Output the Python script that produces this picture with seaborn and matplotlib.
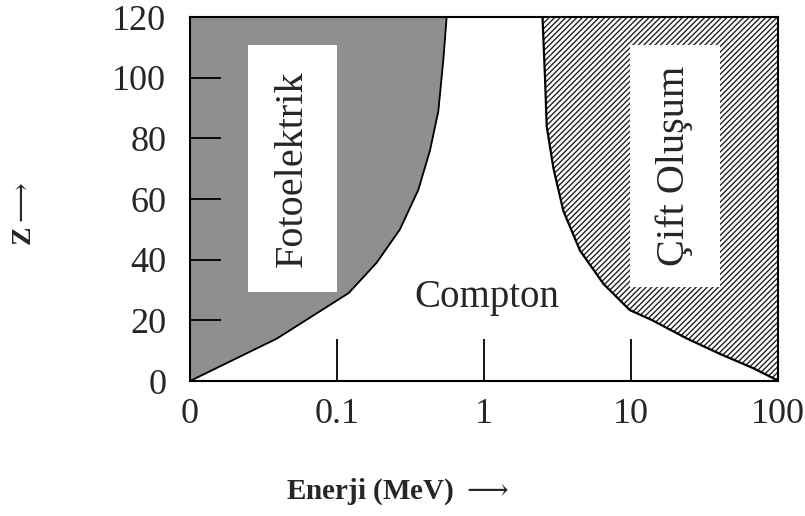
import matplotlib
matplotlib.use("Agg")
import matplotlib.pyplot as plt
import seaborn as sns
import pandas as pd

# boundary photoelectric / compton  (Z, energy MeV)
foto_z = [0, 14, 29, 39, 50, 63, 76, 89, 106, 120]
foto_e = [0.01, 0.039, 0.12, 0.186, 0.268, 0.357, 0.429, 0.489, 0.529, 0.557]

# boundary compton / pair production
cift_z = [120, 100, 84, 70, 56, 43, 32, 23.4, 20, 14, 9, 4.2, 0.9, 0]
cift_e = [2.5, 2.6, 2.67, 2.97, 3.47, 4.5, 6.5, 9.8, 14, 24, 40, 68, 93, 100]

x_ticks = [0.01, 0.1, 1, 10, 100]
x_labels = ["0", "0.1", "1", "10", "100"]
y_ticks = [0, 20, 40, 60, 80, 100, 120]

sns.set_style("white", {"xtick.bottom": True, "ytick.left": True})
plt.rcParams["font.family"] = ["Liberation Serif", "DejaVu Serif"]
plt.rcParams["mathtext.fontset"] = "dejavuserif"
plt.rcParams["hatch.linewidth"] = 1.0

fig = plt.figure(figsize=(8.05, 5.16), dpi=100)
ax = fig.add_axes([0.236, 0.2616, 0.7305, 0.7054])

df_f = pd.DataFrame({"E": foto_e, "Z": foto_z})
df_c = pd.DataFrame({"E": cift_e, "Z": cift_z})

ax.fill_betweenx(foto_z, 0.01, foto_e, color="#8f8f8f", lw=0, zorder=1)
ax.fill_betweenx(cift_z, cift_e, 100, facecolor="white", edgecolor="#222222",
                 hatch="//////", lw=0, zorder=1)
sns.lineplot(data=df_f, x="E", y="Z", sort=False, color="black", lw=1.3, ax=ax)
sns.lineplot(data=df_c, x="E", y="Z", sort=False, color="black", lw=1.6, ax=ax)

ax.set_xscale("log")
ax.set_xlim(0.01, 100)
ax.set_ylim(0, 120)
ax.set_xticks(x_ticks)
ax.set_xticklabels(x_labels)
ax.minorticks_off()
ax.set_yticks(y_ticks)
ax.set_axisbelow(False)
ax.xaxis.set_ticks_position("bottom")
ax.yaxis.set_ticks_position("left")
ax.tick_params(axis="x", direction="in", length=30, width=1.3,
               color="black", labelsize=26, pad=12)
ax.tick_params(axis="y", direction="in", length=22, width=1.3,
               color="black", labelsize=26, pad=17)
for s in ax.spines.values():
    s.set_color("black")
    s.set_linewidth(1.5)
    s.set_zorder(5)

ax.add_patch(plt.Rectangle((0.025, 29.4), 0.075, 81.4, facecolor="white",
                           edgecolor="none", zorder=3))
ax.add_patch(plt.Rectangle((9.8, 31), 30.2, 79.8, facecolor="white",
                           edgecolor="none", zorder=3))
ax.text(0.05, 70, "Fotoelektrik", rotation=90, ha="center", va="center",
        fontsize=29, zorder=4)
ax.text(19.8, 71, "Çift Oluşum", rotation=90, ha="center", va="center",
        fontsize=29, zorder=4)
ax.text(1.05, 27.5, "Compton", ha="center", va="center", fontsize=28, zorder=4)

ax.set_xlabel("Enerji (MeV) $\\longrightarrow$", fontsize=21, fontweight="bold")
ax.xaxis.set_label_coords(0.352, -0.262)
ax.set_ylabel("Z$\\longrightarrow$", fontsize=20, fontweight="bold")
ax.yaxis.set_label_coords(-0.26, 0.46)

fig.savefig("out.png", dpi=100)
